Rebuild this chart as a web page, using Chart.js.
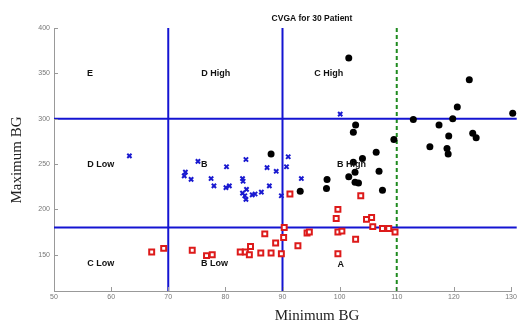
<!DOCTYPE html>
<html>
<head>
<meta charset="utf-8">
<script src="https://cdn.jsdelivr.net/npm/chart.js@4.4.0/dist/chart.umd.min.js"></script>
<style>
  html, body { margin: 0; padding: 0; background: #fff; }
  #wrap { width: 517px; height: 322px; }
</style>
</head>
<body>
<div id="wrap"><canvas id="cvga"></canvas></div>
<script>
// ticks
const xTicks = [50, 60, 70, 80, 90, 100, 110, 120, 130];
const yTicks = [150, 200, 250, 300, 350, 400];

// zone limits
const vLines = [70, 90];
const hLines = [180, 300];
const greenLine = 110;

// patients: blue crosses
const blueX = [63.2, 75.2, 73.0, 72.8, 74.0, 77.5, 78.0, 80.2, 80.1, 80.7, 83.6, 83.0, 83.1, 83.0, 83.7,
  83.4, 83.6, 84.7, 85.2, 86.3, 87.7, 87.3, 88.9, 90.7, 91.0, 93.3, 89.8, 100.1];
const blueY = [259, 253, 241, 237, 233, 234, 226, 247, 224, 226, 255, 234, 231, 218, 222,
  215, 211, 216, 217, 219, 226, 246, 242, 247, 258, 234, 215, 305];

// black dots
const blackX = [101.6, 102.8, 102.4, 109.5, 88.0, 106.4, 104.0, 112.9, 117.4, 119.8, 120.6, 122.7, 123.3, 123.9, 119.1,
  115.8, 118.8, 119.0, 130.3, 102.4, 102.7, 101.6, 106.9, 102.7, 103.3, 97.8, 97.7, 107.5, 93.1];
const blackY = [367, 293, 285, 277, 261, 263, 256, 299, 293, 300, 313, 343, 284, 279, 281,
  269, 267, 261, 306, 252, 241, 236, 242, 230, 229, 233, 223, 221, 220];

// red squares
const redX = [67.1, 69.2, 74.2, 76.7, 77.7, 82.6, 83.5, 84.4, 84.2, 86.2, 88.0, 86.9, 88.8, 91.3, 103.7, 99.7, 99.4,
  104.7, 105.6, 90.3, 105.8, 107.5, 108.6, 109.7, 94.3, 94.7, 99.7, 100.4, 90.2, 102.8, 92.7, 89.8, 99.7];
const redY = [153, 157, 155, 149, 150, 153, 153, 159, 150, 152, 152, 173, 163, 217, 215, 200, 190,
  189, 191, 180, 181, 179, 179, 175, 174, 175, 175, 176, 169, 167, 160, 151, 151];

const zipPts = (xs, ys) => xs.map((x, i) => ({ x: x, y: ys[i] }));

const X_MIN = 50, X_MAX = 130, Y_MIN = 110, Y_MAX = 400;

// zone names, placed in data units
const zones = [
  ['E', 56.3, 350], ['D High', 78.3, 350], ['C High', 98.1, 350],
  ['D Low', 58.2, 250], ['B', 76.3, 250], ['B High', 102.1, 250],
  ['C Low', 58.2, 140], ['B Low', 78.1, 140], ['A', 100.2, 139]
];

const lineSets = [];
vLines.forEach(v => lineSets.push({
  type: 'line', data: [{ x: v, y: Y_MIN }, { x: v, y: Y_MAX }],
  borderColor: '#1414d2', borderWidth: 2, pointRadius: 0, order: 2, clip: false
}));
hLines.forEach(h => lineSets.push({
  type: 'line', data: [{ x: X_MIN, y: h }, { x: X_MAX + 1, y: h }],
  borderColor: '#1414d2', borderWidth: 2, pointRadius: 0, order: 2, clip: false
}));
lineSets.push({
  type: 'line', data: [{ x: greenLine, y: Y_MIN }, { x: greenLine, y: Y_MAX }],
  borderColor: '#1f8a1f', borderWidth: 2, borderDash: [4, 3], pointRadius: 0, order: 2, clip: false
});

const decor = {
  id: 'decor',
  afterDraw(chart) {
    const ctx = chart.ctx;
    const xs = chart.scales.x, ys = chart.scales.y;
    ctx.save();
    // inward tick marks
    ctx.strokeStyle = '#999';
    ctx.lineWidth = 1;
    ctx.beginPath();
    xTicks.forEach(v => {
      const px = Math.round(xs.getPixelForValue(v)) + 0.5;
      ctx.moveTo(px, ys.bottom);
      ctx.lineTo(px, ys.bottom - 4);
    });
    yTicks.forEach(v => {
      const py = Math.round(ys.getPixelForValue(v)) + 0.5;
      ctx.moveTo(xs.left, py);
      ctx.lineTo(xs.left + 4, py);
    });
    ctx.stroke();

    // zone names
    ctx.fillStyle = '#111';
    ctx.font = 'bold 9px Arial';
    ctx.textAlign = 'center';
    ctx.textBaseline = 'middle';
    zones.forEach(z => {
      ctx.fillText(z[0], xs.getPixelForValue(z[1]), ys.getPixelForValue(z[2]));
    });

    // title
    ctx.font = 'bold 8.5px Arial';
    ctx.fillText('CVGA for 30 Patient', 312, 19);

    // axis titles
    ctx.font = '15px "Liberation Serif", "DejaVu Serif", serif';
    ctx.fillStyle = '#222';
    ctx.fillText('Minimum BG', 317, 316);
    ctx.translate(17, 160);
    ctx.rotate(-Math.PI / 2);
    ctx.fillText('Maximum BG', 0, 0);
    ctx.restore();
  }
};

new Chart(document.getElementById('cvga'), {
  type: 'scatter',
  data: {
    datasets: [
      {
        data: zipPts(redX, redY), pointStyle: 'rect', pointRadius: 3.5,
        borderColor: '#dd1a1a', backgroundColor: '#fff', borderWidth: 2, order: 0, clip: false
      },
      {
        data: zipPts(blueX, blueY), pointStyle: 'crossRot', pointRadius: 3,
        borderColor: '#1a1ad0', borderWidth: 2, order: 0, clip: false
      },
      {
        data: zipPts(blackX, blackY), pointStyle: 'circle', pointRadius: 3.5,
        borderColor: '#000', backgroundColor: '#000', borderWidth: 0, order: 0, clip: false
      },
      ...lineSets
    ]
  },
  options: {
    responsive: true,
    maintainAspectRatio: false,
    animation: false,
    layout: { padding: { top: 28, right: 2, left: 0, bottom: 0 } },
    plugins: { legend: { display: false }, title: { display: false }, tooltip: { enabled: false } },
    scales: {
      x: {
        type: 'linear', min: X_MIN, max: X_MAX,
        afterBuildTicks: s => { s.ticks = xTicks.map(v => ({ value: v })); },
        afterFit: s => { s.height = 31; s.paddingLeft = 0; s.paddingRight = 0; },
        grid: { display: false, drawTicks: false },
        border: { color: '#999', width: 1 },
        ticks: { color: '#777', font: { size: 7, family: 'Arial' }, padding: 2, maxRotation: 0 }
      },
      y: {
        type: 'linear', min: Y_MIN, max: Y_MAX,
        afterBuildTicks: s => { s.ticks = yTicks.map(v => ({ value: v })); },
        afterFit: s => { s.width = 54; s.paddingTop = 0; s.paddingBottom = 0; },
        grid: { display: false, drawTicks: false },
        border: { color: '#999', width: 1 },
        ticks: { color: '#777', font: { size: 7, family: 'Arial' }, padding: 4 }
      }
    }
  },
  plugins: [decor]
});
</script>
</body>
</html>
